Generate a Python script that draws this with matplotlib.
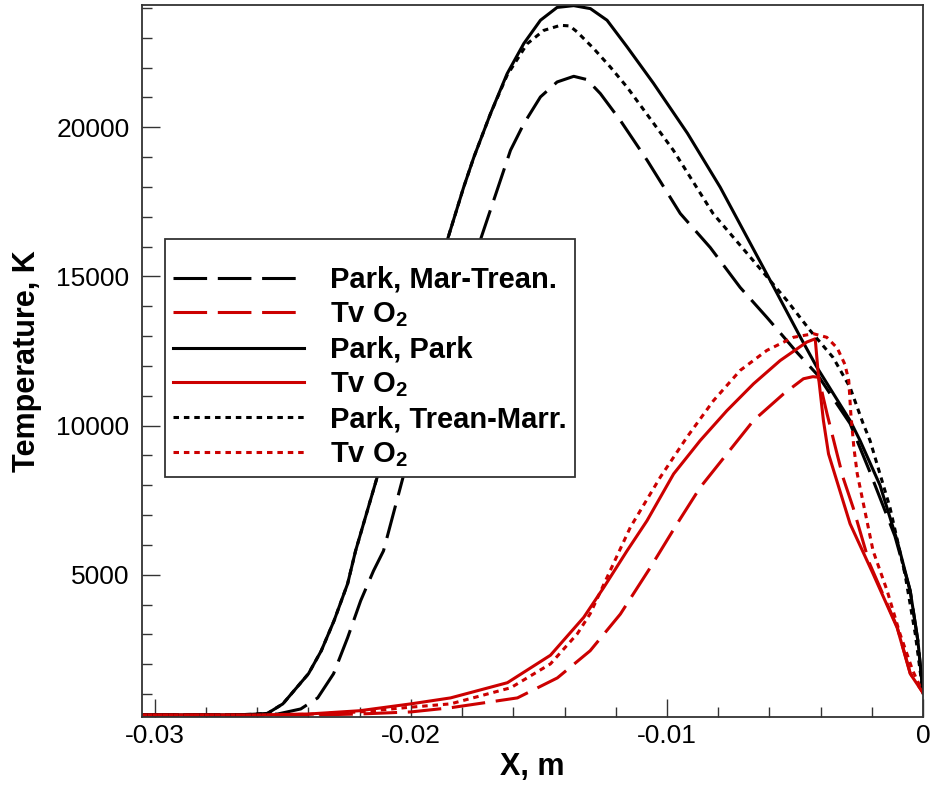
import numpy as np
import matplotlib
matplotlib.use("Agg")
import matplotlib.pyplot as plt
from matplotlib.ticker import MultipleLocator, FuncFormatter

plt.rcParams['font.family'] = ['Liberation Sans', 'DejaVu Sans']
plt.rcParams['axes.unicode_minus'] = False
plt.rcParams['mathtext.fontset'] = 'custom'
plt.rcParams['mathtext.rm'] = 'Liberation Sans:bold'
plt.rcParams['mathtext.it'] = 'Liberation Sans:bold'
plt.rcParams['mathtext.bf'] = 'Liberation Sans:bold'

# ---- Park dissociation, Marrone-Treanor coupling ----
x_mt = [-0.0305, -0.0262, -0.0252, -0.0243, -0.02364, -0.02302, -0.02247, -0.02196,
        -0.02146, -0.02107, -0.02029, -0.0200, -0.01728, -0.01611, -0.01559, -0.01494,
        -0.01429, -0.01364, -0.01312, -0.0126, -0.01182, -0.01077, -0.00948, -0.00831,
        -0.00714, -0.00609, -0.00492, -0.0041, -0.0035, -0.00285, -0.0021, -0.0011,
        -0.0005, -0.0002, 0.0]
t_mt = [300, 300, 330, 500, 870, 1680, 2890, 4130,
        5130, 5800, 8320, 9200, 16240, 19230, 20120, 21020,
        21520, 21710, 21600, 21130, 20230, 18890, 17110, 15970,
        14630, 13620, 12450, 11680, 10900, 10070, 8500, 6300,
        4460, 2780, 1040]
x_mt_o2 = [-0.0305, -0.0236, -0.022, -0.020, -0.01845, -0.01584, -0.01428, -0.013,
           -0.01182, -0.01065, -0.00961, -0.0087, -0.00766, -0.00662, -0.00545, -0.00467,
           -0.0043, -0.00408, -0.00375, -0.00336, -0.00312, -0.00273, -0.0021, -0.00101,
           -0.0005, 0.0]
tv_mt_o2 = [300, 300, 330, 400, 540, 870, 1540, 2450,
            3680, 5240, 6700, 7930, 9050, 10170, 11060, 11570,
            11640, 11620, 10400, 9060, 8250, 7250, 5400, 3250,
            1700, 1040]

# ---- Park dissociation, Park coupling ----
x_pk = [-0.0305, -0.027, -0.0262, -0.0256, -0.0250, -0.0240, -0.0235, -0.0230,
        -0.02247, -0.02216, -0.0213, -0.0200, -0.01857, -0.01794, -0.01754, -0.01689,
        -0.01624, -0.01559, -0.01494, -0.01429, -0.01364, -0.01299, -0.01234, -0.01156,
        -0.01053, -0.0092, -0.00792, -0.00597, -0.0048, -0.00414, -0.00285, -0.00246,
        -0.00168, -0.00101, -0.0005, -0.0002, 0.0]
t_pk = [300, 300, 320, 350, 670, 1680, 2450, 3460,
        4700, 5800, 8320, 12090, 16240, 17990, 19000, 20460,
        21800, 22810, 23590, 24020, 24080, 23980, 23590, 22700,
        21480, 19800, 17990, 14870, 12980, 11950, 10170, 9500,
        8000, 6140, 4460, 2780, 1040]
x_pk_o2 = [-0.0305, -0.026, -0.024, -0.022, -0.020, -0.01845, -0.01623, -0.01455,
           -0.01325, -0.01247, -0.01156, -0.01078, -0.00974, -0.0087, -0.00766, -0.00662,
           -0.00558, -0.00454, -0.00421, -0.00408, -0.00389, -0.00369, -0.00285, -0.00195,
           -0.00101, -0.0005, 0.0]
tv_pk_o2 = [300, 300, 330, 440, 670, 870, 1380, 2300,
            3570, 4570, 5800, 6810, 8380, 9500, 10500, 11400,
            12180, 12800, 12910, 11620, 10170, 9050, 6710, 5030,
            3220, 1680, 1040]

# ---- Park dissociation, Treanor-Marrone coupling ----
x_tm = [-0.0305, -0.027, -0.0262, -0.0256, -0.0250, -0.0240, -0.0235, -0.0230,
        -0.02247, -0.02216, -0.0213, -0.0200, -0.01857, -0.01794, -0.01754, -0.01689,
        -0.01624, -0.01546, -0.01481, -0.01416, -0.0138, -0.01351, -0.01286, -0.01221,
        -0.01156, -0.00975, -0.0082, -0.0065, -0.00531, -0.00441, -0.00351, -0.00285,
        -0.00234, -0.00207, -0.00129, -0.0007, -0.0003, 0.0]
t_tm = [300, 300, 320, 350, 670, 1680, 2450, 3460,
        4700, 5800, 8320, 12090, 16240, 17990, 19000, 20460,
        21750, 22800, 23250, 23420, 23400, 23200, 22640, 22020,
        21350, 19230, 17110, 15400, 14190, 13190, 12280, 11280,
        10070, 9500, 7250, 5000, 3000, 1040]
x_tm_o2 = [-0.0305, -0.026, -0.024, -0.022, -0.020, -0.01845, -0.0161, -0.01455,
           -0.0135, -0.013, -0.01143, -0.01026, -0.00922, -0.00818, -0.00714, -0.0061,
           -0.00506, -0.00428, -0.00376, -0.00335, -0.00305, -0.0029, -0.00282, -0.0027,
           -0.00257, -0.00195, -0.0014, -0.0009, -0.0004, 0.0]
tv_tm_o2 = [300, 300, 320, 400, 560, 670, 1210, 2010,
            3020, 3690, 6590, 8270, 9610, 10840, 11850, 12520,
            12960, 13080, 12960, 12600, 12050, 11510, 10400, 9260,
            8390, 5800, 4460, 3020, 1780, 1040]

labels = ["Park, Mar-Trean.", "Tv O$_2$", "Park, Park", "Tv O$_2$",
          "Park, Trean-Marr.", "Tv O$_2$"]

RED = '#cc0000'
DASH = (0, (11, 3.5))
DOT = (0, (1.8, 1.6))

fig = plt.figure(figsize=(9.3, 7.86), dpi=100)
ax = fig.add_axes([0.1527, 0.0878, 0.8398, 0.9058])

series = [
    (x_mt, t_mt, 'black', DASH),
    (x_mt_o2, tv_mt_o2, RED, DASH),
    (x_pk, t_pk, 'black', '-'),
    (x_pk_o2, tv_pk_o2, RED, '-'),
    (x_tm, t_tm, 'black', DOT),
    (x_tm_o2, tv_tm_o2, RED, DOT),
]
for (xs, ys, c, ls), lab in zip(series, labels):
    ax.plot(xs, ys, color=c, linestyle=ls, linewidth=2.2, label=lab,
            solid_joinstyle='round', dash_capstyle='butt')

ax.set_xlim(-0.0305, 0.0)
ax.set_ylim(230, 24100)

ax.xaxis.set_major_locator(MultipleLocator(0.01))
ax.xaxis.set_minor_locator(MultipleLocator(0.002))
ax.yaxis.set_major_locator(MultipleLocator(5000))
ax.yaxis.set_minor_locator(MultipleLocator(1000))
ax.xaxis.set_major_formatter(FuncFormatter(lambda v, p: "0" if abs(v) < 1e-12 else f"{v:g}"))
ax.yaxis.set_major_formatter(FuncFormatter(lambda v, p: f"{int(round(v))}"))

ax.tick_params(which='both', direction='in', top=False, right=False, width=1.0,
               color='#333333', labelsize=19)
ax.tick_params(which='major', length=13)
ax.tick_params(which='minor', length=7)
ax.tick_params(axis='x', which='major', pad=5)
ax.tick_params(axis='y', which='major', pad=9)

for s in ax.spines.values():
    s.set_linewidth(1.3)
    s.set_color('#333333')

ax.set_xlabel("X, m", fontsize=22, fontweight='bold')
ax.set_ylabel("Temperature, K", fontsize=22, fontweight='bold')
ax.xaxis.set_label_coords(0.5, -0.070)
ax.yaxis.set_label_coords(-0.147, 0.5)
ax.xaxis.label.set_va('center')
ax.yaxis.label.set_va('center')

# a blank title gives the extra room above the first legend row
leg = ax.legend(loc='upper left', bbox_to_anchor=(0.0294, 0.671), borderaxespad=0,
                prop={'weight': 'bold', 'size': 21}, handlelength=4.5,
                handletextpad=0.89, labelspacing=0.225, borderpad=0.274,
                title=" ", title_fontsize=9,
                fancybox=False, framealpha=1.0, edgecolor='#333333')
leg.get_frame().set_linewidth(1.3)

fig.savefig("out.png", dpi=100)
